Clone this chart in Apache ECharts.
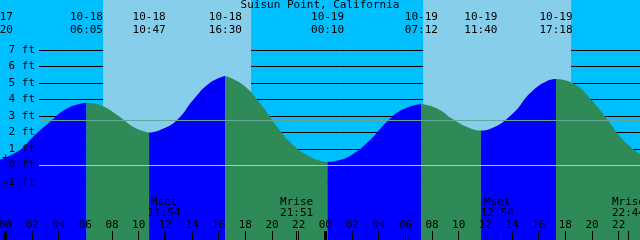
<!DOCTYPE html>
<html><head><meta charset="utf-8">
<script src="https://cdn.jsdelivr.net/npm/echarts@6/dist/echarts.min.js"></script>
<style>html,body{margin:0;padding:0;background:#00bfff;overflow:hidden}#c{position:absolute;left:-40px;top:0;width:720px;height:240px}</style>
</head><body><div id="c"></div>
<script>
const chartTitle = 'Suisun Point, California';
// tide curve, hours from 10-18 00:00, heights in ft
const tideHours = [-0.4, 1.1, 2.08, 3.35, 4.63, 6.083, 7.1, 8.38, 9.58, 10.63, 10.783, 11.6, 12.88, 14.08, 15.35, 16.5, 17.83, 19.1, 20.38, 21.58, 22.85, 23.6, 24.167, 25.1, 26.08, 27.35, 28.63, 29.83, 31.2, 32.38, 33.58, 34.85, 35.667, 36.35, 38.08, 39.35, 40.63, 41.3, 42.58, 43.85, 45.13, 46.33, 47.6];
const tideFeet = [0.35, 0.93, 1.73, 2.64, 3.45, 3.79, 3.65, 3.05, 2.34, 2.0, 1.98, 2.14, 2.75, 3.96, 5.0, 5.41, 4.87, 3.76, 2.34, 1.23, 0.52, 0.28, 0.2, 0.32, 0.68, 1.53, 2.64, 3.39, 3.72, 3.45, 2.79, 2.24, 2.1, 2.2, 3.15, 4.36, 5.11, 5.23, 4.97, 4.06, 2.79, 1.53, 0.68];
const extremeHours = [6.083, 10.783, 16.5, 24.167, 31.2, 35.667, 41.3];
const eventHours = [-0.667, 6.083, 10.783, 16.5, 24.167, 31.2, 35.667, 41.3];
const eventDates = ['10-17', '10-18', '10-18', '10-18', '10-19', '10-19', '10-19', '10-19'];
const eventClock = ['23:20', '06:05', '10:47', '16:30', '00:10', '07:12', '11:40', '17:18'];
const dayStart = [7.333, 31.333];
const dayEnd = [18.433, 42.433];
const moonHours = [11.9, 21.85, 36.9, 46.733];
const moonNames = ['Mset', 'Mrise', 'Mset', 'Mrise'];
const moonClock = ['11:54', '21:51', '12:54', '22:44'];
const hourTicks = [0, 2, 4, 6, 8, 10, 12, 14, 16, 18, 20, 22, 24, 26, 28, 30, 32, 34, 36, 38, 40, 42, 44, 46];
const midnightTicks = [0, 24];
const footMin = -1, footMax = 7;
const datumLevel = 0;
const meanLevel = 2.72;

const FONT = 'DejaVu Sans Mono';
const X_MIN = -3.4, X_MAX = 47.6;

function nearestIdx(arr, v) {
  let b = 0;
  for (let i = 1; i < arr.length; i++) if (Math.abs(arr[i] - v) < Math.abs(arr[b] - v)) b = i;
  return b;
}

// split into rising / falling segments
const segs = [];
let cur = [];
for (let i = 0; i < tideHours.length; i++) {
  const p = [tideHours[i], tideFeet[i]];
  cur.push(p);
  if (extremeHours.indexOf(tideHours[i]) >= 0) { segs.push(cur); cur = [p]; }
}
segs.push(cur);

const series = [];
series.push({
  type: 'line', xAxisIndex: 0, yAxisIndex: 0, data: [], z: 0, silent: true,
  markArea: {
    silent: true,
    itemStyle: { color: '#87ceeb' },
    data: dayStart.map((s, i) => [{ xAxis: s }, { xAxis: dayEnd[i] }])
  }
});
segs.forEach((s, i) => {
  const col = i % 2 === 0 ? '#0000ff' : '#2e8b57';
  series.push({
    type: 'line', xAxisIndex: 0, yAxisIndex: 0, data: s, z: 3, silent: true,
    smooth: 0.5, showSymbol: false, symbol: 'none',
    lineStyle: { width: 0, color: col },
    areaStyle: { color: col, opacity: 1, origin: 'start' }
  });
});
series.push({
  type: 'line', xAxisIndex: 4, yAxisIndex: 1, data: [], z: 5, silent: true,
  markLine: {
    silent: true, symbol: 'none', label: { show: false },
    data: [
      { yAxis: datumLevel, lineStyle: { color: '#86dcd6', width: 1, type: 'solid' } },
      { yAxis: meanLevel, lineStyle: { color: '#62a898', width: 1, type: 'solid' } }
    ]
  }
});

const pad2 = v => String(((v % 24) + 24) % 24).padStart(2, '0');
const noLine = { show: false, onZero: false };

const option = {
  animation: false,
  title: {
    text: chartTitle, left: 'center', top: 0, padding: 0,
    textStyle: { fontFamily: FONT, fontSize: 11, fontWeight: 'normal', color: '#000' }
  },
  grid: [
    { left: 0, right: 40, top: 0, bottom: 0 },
    { left: 79, right: 40, top: 49.8, bottom: 58.2 }
  ],
  xAxis: [
    { gridIndex: 0, type: 'value', min: X_MIN, max: X_MAX, position: 'bottom', z: 10,
      axisLine: noLine, splitLine: { show: false },
      axisTick: { show: true, inside: true, length: 9, customValues: hourTicks, lineStyle: { color: '#000', width: 1 } },
      axisLabel: { show: true, inside: true, margin: 9, customValues: hourTicks, formatter: v => pad2(Math.round(v)),
        fontFamily: FONT, fontSize: 11, color: '#000' } },
    { gridIndex: 0, type: 'value', min: X_MIN, max: X_MAX, position: 'bottom', z: 10,
      axisLine: noLine, splitLine: { show: false }, axisLabel: { show: false },
      axisTick: { show: true, inside: true, length: 9, customValues: midnightTicks, lineStyle: { color: '#000', width: 3 } } },
    { gridIndex: 0, type: 'value', min: X_MIN, max: X_MAX, position: 'bottom', z: 10,
      axisLine: noLine, splitLine: { show: false },
      axisTick: { show: true, inside: true, length: 9, customValues: moonHours, lineStyle: { color: '#000', width: 1 } },
      axisLabel: { show: true, inside: true, margin: 21, customValues: moonHours,
        formatter: v => { const i = nearestIdx(moonHours, v); return moonNames[i] + '\n' + moonClock[i]; },
        fontFamily: FONT, fontSize: 11, lineHeight: 11.5, color: '#000' } },
    { gridIndex: 0, type: 'value', min: X_MIN, max: X_MAX, position: 'top', z: 10,
      axisLine: noLine, splitLine: { show: false }, axisTick: { show: false },
      axisLabel: { show: true, inside: true, margin: 11, customValues: eventHours,
        formatter: v => { const i = nearestIdx(eventHours, v); return eventDates[i] + '\n' + eventClock[i]; },
        fontFamily: FONT, fontSize: 11, lineHeight: 12.5, color: '#000' } },
    { gridIndex: 1, type: 'value', min: 0, max: 1, show: false, axisLine: noLine }
  ],
  yAxis: [
    { gridIndex: 0, type: 'value', min: -4.527, max: 10.018, show: false, axisLine: noLine },
    { gridIndex: 1, type: 'value', min: footMin, max: footMax, interval: 1, position: 'left', z: 1,
      axisLine: noLine, axisTick: { show: false }, axisLabel: { show: false },
      splitLine: { show: true, lineStyle: { color: '#000', width: 1 } } },
    { gridIndex: 1, type: 'value', min: footMin, max: footMax, interval: 1, position: 'left', z: 10,
      axisLine: noLine, axisTick: { show: false }, splitLine: { show: false },
      axisLabel: { show: true, margin: 4, formatter: '{value} ft', fontFamily: FONT, fontSize: 11, color: '#000' } }
  ],
  graphic: [
    { type: 'text', left: 42, top: 153, z: 20, style: { text: '+', fontFamily: FONT, fontSize: 12, fill: '#000' } }
  ],
  series: series
};
const chart = echarts.init(document.getElementById('c'), null, { renderer: 'canvas' });
chart.setOption(option);
</script></body></html>
